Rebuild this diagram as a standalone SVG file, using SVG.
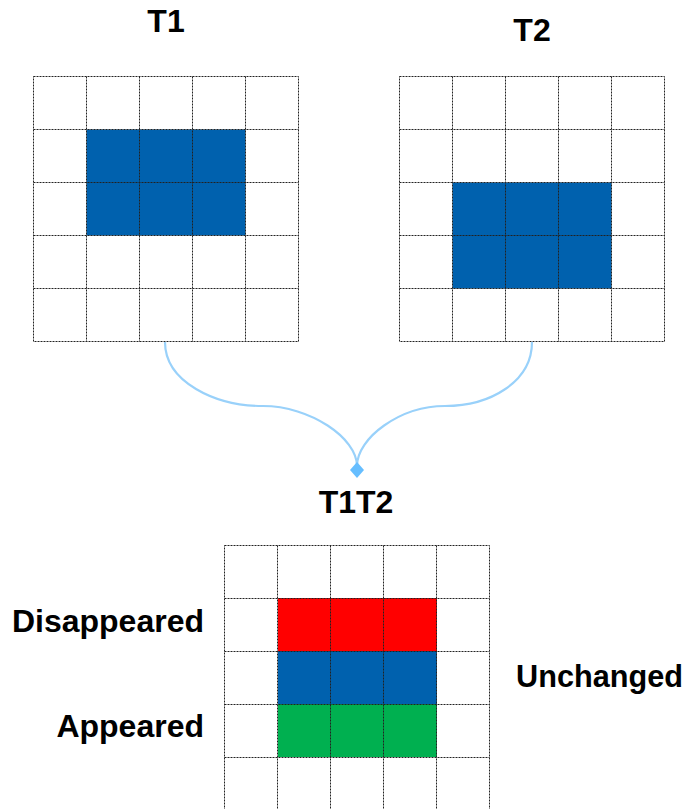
<svg xmlns="http://www.w3.org/2000/svg" width="694" height="809" viewBox="0 0 694 809">
  <defs>
    <style>
      .label { font-family: "Liberation Sans", Arial, sans-serif; font-weight: bold; font-size: 32px; fill: #000; }
      .grid { fill: none; stroke: #222; stroke-width: 1; stroke-dasharray: 2 1; }
      .blue { fill: #0061AE; }
      .red { fill: #FF0000; }
      .green { fill: #00B050; }
      .link { fill: none; stroke: #99D1FA; stroke-width: 2.2; }
    </style>
    <!-- 5x5 grid of 53px cells -->
    <g id="grid5">
      <rect class="grid" x="0" y="0" width="265" height="265"/>
      <path class="grid" d="M53 0V265M106 0V265M159 0V265M212 0V265M0 53H265M0 106H265M0 159H265M0 212H265"/>
    </g>
  </defs>

  <rect width="694" height="809" fill="#fff"/>

  <g id="t1">
    <text class="label" x="166" y="32" text-anchor="middle">T1</text>
    <rect class="blue" x="86.5" y="129.5" width="159" height="106"/>
    <use href="#grid5" x="33.5" y="76.5"/>
  </g>

  <g id="t2">
    <text class="label" x="532" y="41" text-anchor="middle">T2</text>
    <rect class="blue" x="452.5" y="182.5" width="159" height="106"/>
    <use href="#grid5" x="399.5" y="76.5"/>
  </g>

  <g id="t1t2">
    <text class="label" x="356" y="513" text-anchor="middle">T1T2</text>
    <rect class="red" x="278" y="598" width="159" height="53"/>
    <rect class="blue" x="278" y="651" width="159" height="53"/>
    <rect class="green" x="278" y="704" width="159" height="53"/>
    <use href="#grid5" x="224.5" y="545.5"/>
  </g>

  <g id="legend">
    <text class="label" x="204" y="632" text-anchor="end">Disappeared</text>
    <text class="label" x="204" y="737" text-anchor="end">Appeared</text>
    <text class="label" x="516" y="687" textLength="167" lengthAdjust="spacingAndGlyphs">Unchanged</text>
  </g>

  <g id="connectors">
    <path class="link" d="M165 342C165 382 215 406 263 406C310 406 357 438 357 466"/>
    <path class="link" d="M532 342C532 382 490 406 445 406C400 406 357 438 357 466"/>
    <path d="M357 462L364 470L357 478L350 470Z" fill="#66BEFF"/>
  </g>
</svg>
